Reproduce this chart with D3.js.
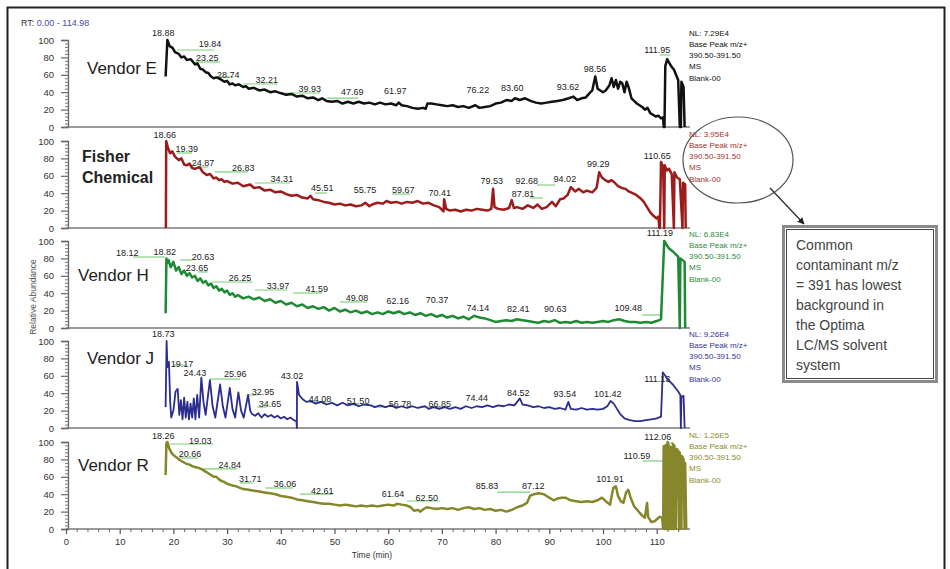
<!DOCTYPE html>
<html><head><meta charset="utf-8">
<script src="https://cdn.jsdelivr.net/npm/d3@7"></script>
<style>body{margin:0;background:#fff;} svg{display:block;font-family:Arial,"Liberation Sans",sans-serif;}</style>
</head><body><svg id="c" width="950" height="569"></svg>
<script>
// ---------------- DATA ----------------
const rtRange = "0.00 - 114.98";
const vendorNames = ["Vendor E", "Fisher Chemical", "Vendor H", "Vendor J", "Vendor R"];
const nlValues = ["NL: 7.29E4", "NL: 3.95E4", "NL: 6.83E4", "NL: 9.26E4", "NL: 1.26E5"];
const nlSubLines = ["Base Peak m/z+", "390.50-391.50", "MS", "Blank-00"];
const xTicks = [0, 10, 20, 30, 40, 50, 60, 70, 80, 90, 100, 110];
const yTicks = [0, 20, 40, 60, 80, 100];
const noteLines = ["Common", "contaminant m/z", "= 391 has lowest", "background in", "the Optima", "LC/MS solvent", "system"];

// [time (min), relative abundance %]
const seriesE = [[18.55,58],[18.88,100],[19.3,93],[19.84,91],[20.3,86],[21,84],[21.5,80],[22,81],[22.5,77],[23.25,78],[24,72],[24.5,73],[25,67],[25.5,66],[26,63],[26.5,62],[27,58],[27.5,56],[28,57],[28.74,55],[29.5,52],[30,53],[30.5,49],[31,50],[31.5,48],[32.21,49],[33,46],[33.5,47],[34,44],[35,45],[36,42],[37,43],[38,40],[39,41],[39.93,39],[41,37],[42,38],[43,35],[44,36],[45,33],[46,34],[47,31],[47.69,33],[48.5,30],[49.5,29],[50.5,30],[51.5,27],[52.5,29],[53.5,27],[54.5,29],[55.5,27],[56.5,28],[57.5,26],[58.5,28],[59.5,26],[60.5,27],[61.5,25],[61.97,28],[62.5,25],[63.5,24],[64.5,22],[65.5,21],[66.5,22],[67,21],[67.3,27],[68,27],[69,26],[70,25],[71,24],[72,25],[73,23],[74,24],[75,22],[76.22,25],[77,22],[78,23],[79,24],[80,27],[81,28],[82,31],[83,30],[83.6,33],[84.5,31],[85.5,33],[86.5,30],[87.5,28],[88.5,27],[89.5,28],[90.5,29],[91.5,30],[92.5,31],[93.62,33],[94.5,35],[95.2,31],[96,33],[96.8,34],[97.5,39],[98,42],[98.56,58],[99,44],[99.5,42],[100,40],[100.5,42],[101.2,48],[101.6,56],[102,46],[102.4,54],[102.8,44],[103.2,52],[103.6,50],[104,40],[104.4,52],[104.8,45],[105.3,33],[105.8,30],[106.3,27],[106.8,25],[107.3,23],[107.8,20],[108.3,22],[108.8,16],[109.3,14],[109.8,12],[110.3,13],[110.8,10],[111.2,11],[111.3,0],[111.45,0],[111.6,70],[111.95,78],[112.3,74],[112.8,69],[113.2,66],[113.6,60],[114,54],[114.3,0],[114.5,0],[114.6,52],[115,46],[115.2,0]];

const seriesFisher = [[18.6,0],[18.66,100],[19,92],[19.39,86],[19.8,88],[20.3,82],[21,78],[21.5,80],[22,73],[22.5,72],[23,74],[23.5,69],[24,68],[24.87,70],[25.5,64],[26.2,61],[26.83,62],[27.5,57],[28,58],[28.5,55],[29,56],[29.5,53],[30,54],[31,51],[32,52],[33,48],[34.31,50],[35,46],[36,47],[37,43],[38,44],[39,41],[40,42],[41,39],[42,37],[43,38],[44,35],[45,34],[45.51,37],[46,33],[47,32],[48,30],[49,29],[50,27],[51,28],[52,26],[53,27],[54,25],[55,26],[55.75,29],[56.5,25],[57,27],[58,29],[59,28],[59.67,31],[60.5,29],[61.5,30],[62.5,28],[63.5,30],[64.5,29],[65.5,31],[66.5,28],[67.5,29],[68.5,26],[69.5,24],[70.3,19],[70.41,33],[70.8,22],[71.5,20],[72.5,21],[73.5,19],[74.5,21],[75.5,20],[76.5,22],[77.5,21],[78.5,20],[79.2,22],[79.53,45],[79.8,24],[80.5,22],[81.5,21],[82.5,23],[83,32],[83.4,23],[84,24],[85,22],[86,26],[87,23],[87.81,27],[88.6,22],[89.5,24],[90.5,30],[91.2,25],[92,33],[92.68,34],[93.4,38],[94.02,47],[94.8,42],[95.5,45],[96.3,41],[97,43],[98,41],[98.8,46],[99.29,64],[99.8,58],[100.4,55],[101,53],[101.6,55],[102.2,52],[102.8,48],[103.5,46],[104.2,45],[104.8,42],[105.5,40],[106.2,38],[107,34],[107.6,30],[108.2,24],[108.8,18],[109.4,14],[110,11],[110.3,13],[110.5,0],[110.6,0],[110.8,76],[111.2,70],[111.4,0],[111.5,72],[111.9,66],[112.3,68],[112.8,62],[113.2,0],[113.3,64],[113.8,58],[114.3,56],[114.8,0],[114.9,52],[115.3,50],[115.4,0]];

const seriesH = [[18.55,17],[18.7,80],[18.82,74],[19.1,78],[19.5,70],[20,76],[20.5,66],[21,70],[21.5,62],[22,66],[22.5,60],[23,63],[23.5,58],[24,60],[24.5,54],[25,57],[25.5,52],[26,54],[26.5,49],[27,51],[27.5,46],[28,48],[28.5,43],[29,45],[29.5,41],[30,43],[30.5,38],[31,40],[31.5,36],[32,38],[33,34],[34,36],[35,33],[36,35],[37,31],[38,33],[39,29],[40,31],[41,27],[42,29],[43,25],[44,27],[45,23],[46,25],[47,22],[48,24],[49,20],[50,23],[51,19],[52,21],[53,18],[54,20],[55,17],[56,19],[57,16],[58,18],[59,16],[60,19],[61,17],[62,19],[63,16],[64,18],[65,15],[66,17],[67,14],[68,16],[69,13],[70,15],[71,12],[72,14],[73,11],[74,13],[75,10],[76,14],[77,12],[78,11],[79,9],[80,7],[81,8],[82,9],[83,8],[84,10],[85,9],[86,8],[87,7],[88,6],[89,8],[90,7],[91,9],[92,6],[93,7],[94,6],[95,8],[96,6],[97,7],[98,6],[99,7],[100,8],[101,7],[102,9],[103,10],[104,8],[105,7],[106,7],[107,6],[108,7],[109,6],[110,8],[110.8,10],[111.4,100],[111.8,96],[112.2,92],[112.6,90],[113,88],[113.5,85],[114,82],[114.3,0],[114.4,80],[114.8,78],[115.2,76],[115.3,0]];

const seriesJ = [[18.55,24],[18.73,100],[18.9,70],[19.17,76],[19.4,30],[19.6,12],[20,20],[20.4,42],[20.8,45],[21.1,15],[21.4,32],[21.7,10],[22,35],[22.3,12],[22.6,30],[22.9,10],[23.2,28],[23.5,12],[23.8,34],[24.1,10],[24.43,38],[24.8,12],[25.2,58],[25.6,30],[26,15],[26.8,55],[27.3,25],[27.8,12],[28.7,50],[29.2,25],[29.7,12],[30.5,46],[31,22],[31.5,12],[32.1,41],[32.6,20],[33.1,12],[33.9,38],[34.3,20],[34.65,16],[35.2,14],[35.8,17],[36.4,12],[37,16],[37.6,13],[38.2,15],[38.8,12],[39.4,14],[40,11],[40.6,13],[41.2,10],[41.8,12],[42.4,9],[42.9,8],[43,0],[43.02,53],[43.4,38],[44.08,33],[44.8,30],[45.5,31],[46.5,28],[47.5,30],[48.5,27],[49.5,29],[50.5,26],[51.5,29],[52.5,26],[53.5,28],[54.5,25],[55.5,27],[56.78,26],[57.5,24],[58.5,26],[59.5,24],[60.5,26],[61.5,23],[62.5,25],[63.5,23],[64.5,25],[65.5,23],[66.85,25],[67.5,22],[68.5,24],[69.5,22],[70.5,24],[71.5,22],[72.5,24],[73.5,22],[74.44,25],[75.5,23],[76.5,25],[77.5,24],[78.5,26],[79.5,24],[80.5,26],[81.5,25],[82.5,27],[83.5,26],[84.52,34],[85,27],[86,26],[87,24],[88,25],[89,23],[90,24],[91,22],[92,23],[93,21],[93.54,30],[94,22],[95,21],[96,23],[97,21],[98,22],[99,21],[100,22],[100.8,25],[101.42,31],[102,28],[102.6,22],[103.2,16],[104,11],[105,9],[106,8],[107,8],[108,9],[109,10],[110,11],[110.8,13],[111.13,64],[111.6,60],[112,56],[112.5,53],[113,50],[113.5,46],[114,42],[114.4,38],[114.5,0],[114.6,36],[115,37],[115.2,0]];

const seriesR = [[18.55,62],[18.7,99],[18.9,100],[19.2,93],[19.7,87],[20.2,84],[20.66,82],[21.2,79],[21.8,77],[22.4,75],[23,74],[23.6,72],[24.2,71],[24.84,70],[25.5,68],[26,66],[26.5,64],[27,62],[27.5,60],[28,60],[28.5,57],[29,55],[29.5,54],[30,52],[30.5,51],[31,50],[31.71,49],[32.5,47],[33,46],[34,45],[35,44],[36,43],[37,42],[38,41],[39,40],[40,38],[41,37],[42,36],[43,34],[44,33],[45,32],[46,31],[47,30],[48,29],[49,29],[50,28],[51,27],[52,28],[53,27],[54,26],[55,27],[56,26],[57,27],[58,26],[59,27],[60,28],[61,27],[61.64,29],[62.5,28],[63.5,27],[64.2,25],[64.8,21],[65.5,22],[66,20],[66.6,23],[67.2,25],[68,24],[69,23],[70,24],[71,23],[72,24],[73,22],[74,24],[75,25],[76,23],[77,24],[78,22],[79,23],[80,21],[81,22],[82,20],[83,22],[84,25],[85,27],[85.83,30],[86.4,38],[87.12,40],[88,41],[89,40],[90,36],[90.8,33],[91.5,35],[92.3,36],[93,36],[94,33],[95,32],[96,31],[97,32],[98,31],[99,33],[99.8,36],[100.5,32],[101.3,28],[101.91,47],[102.4,49],[102.8,38],[103.3,32],[103.8,30],[104.3,42],[104.7,45],[105.2,35],[105.8,26],[106.5,21],[107.2,16],[107.8,13],[108.2,30],[108.4,14],[109,8],[109.6,9],[110.2,12],[110.6,14],[111,13],[111.2,0],[111.3,95],[111.5,0],[111.6,96],[111.8,0],[111.9,97],[112.06,100],[112.2,0],[112.3,96],[112.5,0],[112.6,94],[112.9,0],[113,98],[113.2,0],[113.3,96],[113.6,0],[113.7,92],[114,90],[114.2,0],[114.3,88],[114.6,0],[114.7,84],[115,80],[115.2,0],[115.3,76],[115.5,0]];

// peak labels: [text, time of label centre, abundance of label baseline]
const peaksE = [["18.88",18.1,104.6],["19.84",26.8,92],["23.25",26.3,75.9],["28.74",30.2,56.3],["32.21",37.4,50.6],["39.93",45.4,40.2],["47.69",53.3,36.8],["61.97",61.3,37.9],["76.22",76.7,39.1],["83.60",83.1,41.4],["93.62",93.5,42.5],["98.56",98.5,63.2],["111.95",110.1,85.1]];
const peaksFisher = [["18.66",18.4,103.4],["19.39",22.5,87.4],["24.87",25.5,71.3],["26.83",33.0,65.5],["34.31",40.2,52.9],["45.51",47.7,42.5],["55.75",55.7,40.2],["59.67",62.8,40.2],["70.41",69.6,36.8],["79.53",79.3,50.6],["87.81",85.1,35.6],["92.68",85.8,50.6],["94.02",92.9,52.9],["99.29",99.1,70.1],["110.65",110.1,79.3]];
const peaksH = [["18.12",11.4,82.8],["18.82",18.4,83.9],["20.63",25.5,78.2],["23.65",24.4,65.5],["26.25",32.4,54.0],["33.97",39.5,44.8],["41.59",46.7,41.4],["49.08",54.2,31.0],["62.16",61.8,27.6],["70.37",69.1,28.7],["74.14",76.7,19.5],["82.41",84.2,18.4],["90.63",91.1,18.4],["109.48",104.7,19.5],["111.19",110.6,105.7]];
const peaksJ = [["18.73",18.1,104.6],["19.17",21.6,70.1],["24.43",24.0,59.8],["25.96",31.5,58.6],["43.02",42.1,56.3],["32.95",36.7,37.9],["34.65",38.0,24.1],["44.08",47.3,29.9],["51.50",54.4,27.6],["56.78",62.2,24.1],["66.85",69.6,24.1],["74.44",76.5,31.0],["84.52",84.2,36.8],["93.54",92.9,35.6],["101.42",100.9,35.6],["111.13",110.1,52.9]];
const peaksR = [["18.26",18.1,103.4],["19.03",25.0,97.7],["20.66",23.1,82.8],["24.84",30.5,70.1],["31.71",34.3,54.0],["36.06",40.8,48.3],["42.61",47.7,40.2],["61.64",60.9,36.8],["62.50",67.2,32.2],["85.83",78.4,46.0],["87.12",87.0,46.0],["101.91",101.3,54.0],["110.59",106.3,80.5],["112.06",110.2,102.3]];

// green annotation guides: [time start, time end, abundance]
const guidesE = [[20.7,27.6,88.5],[24.0,28.7,74.7],[28.1,31.1,57.5],[33.0,39.3,49.4],[40.8,47.3,39.1],[48.6,54.4,33.3],[110.6,112.5,82.8]];
const guidesFisher = [[20.7,23.5,86.2],[24.4,26.4,70.1],[27.7,33.9,64.4],[35.2,41.7,51.7],[46.4,48.6,40.2],[60.7,64.1,39.1],[86.4,88.8,34.5],[87.7,91.1,49.4]];
const guidesH = [[12.5,18.4,81.6],[21.2,23.6,78.2],[24.6,26.4,64.4],[27.2,34.8,52.9],[35.2,41.2,43.7],[42.3,47.7,40.2],[51.0,56.1,29.9],[107.3,111.0,14.9]];
const guidesJ = [[19.9,22.5,72.4],[26.8,32.4,56.3],[33.9,35.6,37.9],[35.6,37.4,24.1],[45.4,48.6,29.9],[52.3,54.7,26.4],[57.9,59.8,24.1],[67.2,70.9,24.1]];
const guidesR = [[19.4,27.4,97.7],[21.2,24.6,81.6],[25.5,31.8,69.0],[32.4,34.8,52.9],[37.1,42.3,47.1],[43.6,49.7,40.2],[63.5,69.6,32.2],[80.3,86.4,42.5],[107.4,111.5,78.2],[111.9,113.0,98.9]];

// ---------------- DRAW ----------------
const svg = d3.select("#c");
const panels = [
  {data: seriesE, peaks: peaksE, guides: guidesE, color: "#111111", nlColor: "#111111", bottom: 127, label: [["Vendor E"]], lx: 87, ly: 74, bold: false},
  {data: seriesFisher, peaks: peaksFisher, guides: guidesFisher, color: "#9c1c1c", nlColor: "#a3332a", bottom: 228, label: [["Fisher"],["Chemical"]], lx: 82, ly: 162, bold: true},
  {data: seriesH, peaks: peaksH, guides: guidesH, color: "#1e8a34", nlColor: "#2c8c3c", bottom: 328, label: [["Vendor H"]], lx: 78, ly: 281, bold: false},
  {data: seriesJ, peaks: peaksJ, guides: guidesJ, color: "#2b2d8f", nlColor: "#34349a", bottom: 428, label: [["Vendor J"]], lx: 87, ly: 364, bold: false},
  {data: seriesR, peaks: peaksR, guides: guidesR, color: "#86862a", nlColor: "#8c8c2c", bottom: 529, label: [["Vendor R"]], lx: 78, ly: 471, bold: false}
];
const panelH = 87;
const x = d3.scaleLinear().domain([0, 116.2]).range([66, 690]);

// outer frame
svg.append("rect").attr("x", 7.5).attr("y", 7.5).attr("width", 937).attr("height", 575)
  .attr("fill", "none").attr("stroke", "#222").attr("stroke-width", 2);

// RT text
const rt = svg.append("text").attr("x", 21).attr("y", 26).attr("font-size", 9);
rt.append("tspan").attr("fill", "#333").text("RT:  ");
rt.append("tspan").attr("fill", "#4a4aa8").text(rtRange);

panels.forEach((p, i) => {
  const y = d3.scaleLinear().domain([0, 100]).range([p.bottom, p.bottom - panelH]);
  const g = svg.append("g");

  // y axis
  const ya = g.append("g").attr("transform", "translate(68,0)")
    .call(d3.axisLeft(y).tickValues(yTicks).tickSize(7).tickPadding(7));
  ya.select(".domain").attr("stroke", "#666").attr("stroke-width", 1.3);
  ya.selectAll(".tick line").attr("stroke", "#666").attr("stroke-width", 1.2);
  ya.selectAll(".tick text").attr("font-size", 9.5).attr("fill", "#333").attr("font-family", "Arial, 'Liberation Sans', sans-serif");
  const minor = d3.range(0, 101, 4).filter(v => v % 20 !== 0);
  g.append("g").attr("transform", "translate(68,0)")
    .call(d3.axisLeft(y).tickValues(minor).tickSize(3).tickFormat(""))
    .call(s => { s.select(".domain").remove(); s.selectAll("line").attr("stroke", "#777"); });

  // baseline
  g.append("line").attr("x1", x(0)).attr("x2", x(116.2)).attr("y1", y(0)).attr("y2", y(0))
    .attr("stroke", "#7a7a7a").attr("stroke-width", 1.6);

  // green guides
  g.selectAll(".guide").data(p.guides).join("line")
    .attr("x1", d => x(d[0])).attr("x2", d => x(d[1]))
    .attr("y1", d => y(d[2])).attr("y2", d => y(d[2]))
    .attr("stroke", "#7fd07f").attr("stroke-width", 1.2);

  // trace
  const line = d3.line().x(d => x(d[0])).y(d => y(d[1]));
  g.append("path").datum(p.data).attr("d", line).attr("fill", "none")
    .attr("stroke", p.color).attr("stroke-width", i === 3 ? 1.8 : 2.5).attr("stroke-linejoin", "round");

  // peak labels
  g.selectAll(".pk").data(p.peaks).join("text")
    .attr("x", d => x(d[1])).attr("y", d => y(d[2]))
    .attr("text-anchor", "middle").attr("font-size", 9).attr("fill", "#222")
    .text(d => d[0]);

  // vendor label
  p.label.forEach((t, k) => {
    g.append("text").attr("x", p.lx).attr("y", p.ly + k * 21)
      .attr("font-size", p.bold ? 16 : 17).attr("font-weight", p.bold ? "bold" : "normal")
      .attr("fill", "#222").text(t[0]);
  });

  // NL block
  const top = p.bottom - panelH;
  const nlOffsets = [-4, 7, 18, 29, 41];
  [nlValues[i]].concat(nlSubLines).forEach((t, k) => {
    g.append("text").attr("x", 689).attr("y", top + nlOffsets[k])
      .attr("font-size", 8).attr("fill", p.nlColor).text(t);
  });

  // x axis on bottom panel
  if (i === panels.length - 1) {
    const xa = g.append("g").attr("transform", `translate(0,${y(0)})`)
      .call(d3.axisBottom(x).tickValues(xTicks).tickSize(5).tickPadding(4));
    xa.select(".domain").remove();
    xa.selectAll(".tick line").attr("stroke", "#555").attr("stroke-width", 1.2);
    xa.selectAll(".tick text").attr("font-size", 9.5).attr("fill", "#333").attr("font-family", "Arial, 'Liberation Sans', sans-serif");
    const xminor = d3.range(0, 115, 2).filter(v => v % 10 !== 0);
    g.append("g").attr("transform", `translate(0,${y(0)})`)
      .call(d3.axisBottom(x).tickValues(xminor).tickSize(3).tickFormat(""))
      .call(s => { s.select(".domain").remove(); s.selectAll("line").attr("stroke", "#666"); });
    g.append("text").attr("x", 372).attr("y", 558).attr("text-anchor", "middle")
      .attr("font-size", 8.5).attr("fill", "#333").text("Time (min)");
  }
});

// y axis title
svg.append("text").attr("transform", "translate(36,297) rotate(-90)")
  .attr("text-anchor", "middle").attr("font-size", 8.5).attr("fill", "#555").text("Relative Abundance");

// annotation ellipse, arrow and box
const defs = svg.append("defs");
defs.append("marker").attr("id", "ah").attr("viewBox", "0 0 10 10").attr("refX", 9).attr("refY", 5)
  .attr("markerWidth", 5).attr("markerHeight", 5).attr("orient", "auto")
  .append("path").attr("d", "M0,0 L10,5 L0,10 z").attr("fill", "#222");
svg.append("ellipse").attr("cx", 738).attr("cy", 160).attr("rx", 55).attr("ry", 43)
  .attr("fill", "none").attr("stroke", "#555").attr("stroke-width", 1.2);
svg.append("line").attr("x1", 770).attr("y1", 188).attr("x2", 804).attr("y2", 224)
  .attr("stroke", "#333").attr("stroke-width", 1.4).attr("marker-end", "url(#ah)");
svg.append("rect").attr("x", 783.5).attr("y", 226.5).attr("width", 153).attr("height", 155)
  .attr("fill", "#fff").attr("stroke", "#8a8a8a").attr("stroke-width", 3);
svg.append("rect").attr("x", 786.5).attr("y", 229.5).attr("width", 147).attr("height", 149)
  .attr("fill", "none").attr("stroke", "#444").attr("stroke-width", 1);
svg.selectAll(".note").data(noteLines).join("text")
  .attr("x", 796).attr("y", (d, k) => 250 + k * 20)
  .attr("font-size", 14).attr("fill", "#444").text(d => d);
</script></body></html>
